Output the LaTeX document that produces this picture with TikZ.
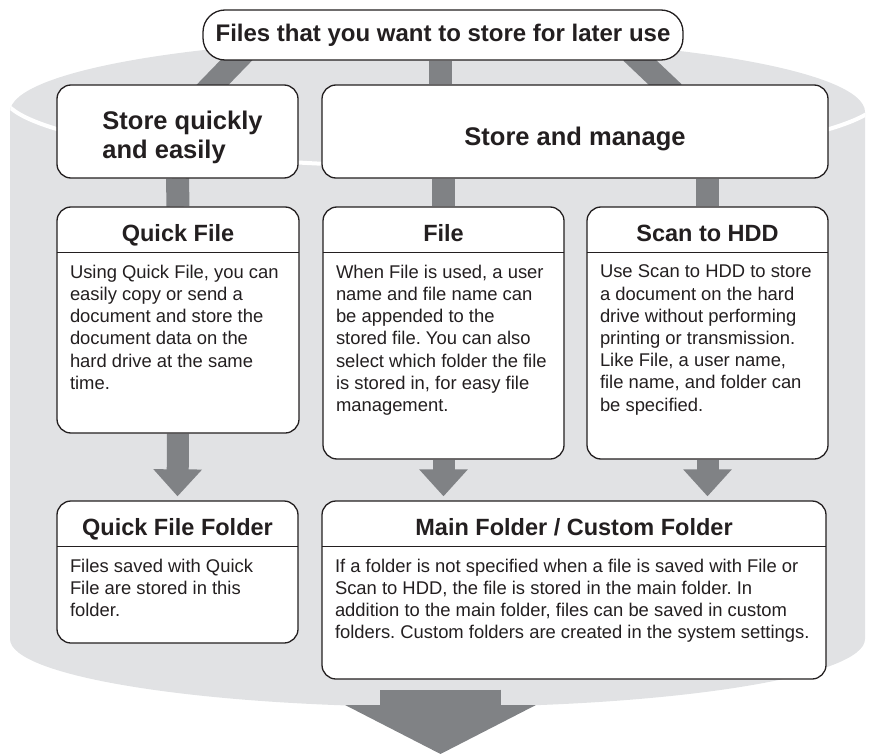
\documentclass[tikz,border=0pt]{standalone}
\usepackage{fontspec}
\setmainfont{Liberation Sans}
\frenchspacing
\usetikzlibrary{arrows.meta,positioning,backgrounds}
\definecolor{drum}{HTML}{E1E2E4}
\definecolor{pipe}{HTML}{808285}
\definecolor{ink}{HTML}{231F20}
\tikzset{
  card/.style={draw=ink, fill=white, rounded corners=14pt, line width=1.3pt, inner sep=0pt, text=ink},
  title/.style={inner sep=0pt, align=left, text=ink, font=\bfseries\fontsize{25.5pt}{29pt}\selectfont},
  head/.style={inner sep=0pt, minimum height=46pt, text height=24pt, text depth=0pt, text=ink, font=\bfseries\fontsize{23.5pt}{28pt}\selectfont},
  body/.style={inner sep=0pt, align=left, text=ink, font=\fontsize{18.4pt}{22.2pt}\selectfont},
  sep/.style={draw=ink, line width=1.3pt},
  bar/.style={pipe, line width=23pt},
  down/.style={pipe, line width=22pt, -{Triangle[width=47pt,length=27pt]}, shorten >=4pt},
}

\begin{document}
\begin{tikzpicture}[x=1pt, y=-1pt]
    \useasboundingbox (0,0) rectangle (872,754);
    % top level
    \node[card, rounded corners=22pt, minimum width=480pt, minimum height=50pt, font=\bfseries\fontsize{24pt}{28pt}\selectfont] (top) at (443,35)
      {Files that you want to store for later use};
    \node[card, minimum width=241pt, minimum height=93pt] (quick) at (177.5,131.5) {};
    \node[title] (quicktext) at ([xshift=5pt, yshift=-6pt]quick.center) {Store quickly\\and easily};
    \node[card, minimum width=506pt, minimum height=93pt, text height=28pt, text depth=0pt,
      font=\bfseries\fontsize{25.5pt}{29pt}\selectfont] (manage) at (575,131.5) {Store and manage};

    % Quick File
    \node[card, minimum width=242pt, minimum height=226pt] (qf) at (178,320) {};
    \node[head, minimum width=242pt, below=0pt of qf.north] (qfhead) {Quick File};
    \draw[sep] (qfhead.south west) -- (qfhead.south east);
    \node[body, below right=12pt and 13pt of qfhead.south west] (qftext)
      {Using Quick File, you can\\ easily copy or send a\\ document and store the\\ document data on the\\ hard drive at the same\\ time.};

    % File
    \node[card, minimum width=241pt, minimum height=252pt] (file) at (443.5,333) {};
    \node[head, minimum width=241pt, below=0pt of file.north] (filehead) {File};
    \draw[sep] (filehead.south west) -- (filehead.south east);
    \node[body, below right=12pt and 13pt of filehead.south west] (filetext)
      {When File is used, a user\\ name and file name can\\ be appended to the\\ stored file. You can also\\ select which folder the file\\ is stored in, for easy file\\ management.};

    % Scan to HDD
    \node[card, minimum width=241pt, minimum height=252pt] (scan) at (707.5,333) {};
    \node[head, minimum width=241pt, below=0pt of scan.north] (scanhead) {Scan to HDD};
    \draw[sep] (scanhead.south west) -- (scanhead.south east);
    \node[body, below right=12pt and 13pt of scanhead.south west] (scantext)
      {Use Scan to HDD to store\\ a document on the hard\\ drive without performing\\ printing or transmission.\\ Like File, a user name,\\ file name, and folder can\\ be specified.};

    % folders
    \node[card, minimum width=241pt, minimum height=142pt] (qff) at (177.5,572) {};
    \node[head, minimum width=241pt, below=0pt of qff.north] (qffhead) {Quick File Folder};
    \draw[sep] (qffhead.south west) -- (qffhead.south east);
    \node[body, below right=12pt and 13pt of qffhead.south west] (qfftext)
      {Files saved with Quick\\ File are stored in this\\ folder.};

    \node[card, minimum width=504pt, minimum height=178pt] (main) at (574,590) {};
    \node[head, minimum width=504pt, below=0pt of main.north] (mainhead) {Main Folder / Custom Folder};
    \draw[sep] (mainhead.south west) -- (mainhead.south east);
    \node[body, below right=12pt and 13pt of mainhead.south west] (maintext)
      {If a folder is not specified when a file is saved with File or\\ Scan to HDD, the file is stored in the main folder. In\\ addition to the main folder, files can be saved in custom\\ folders. Custom folders are created in the system settings.};

    \coordinate (exit) at (440.5,754);

    \begin{scope}[on background layer]
      % drum
      \begin{scope}
        \clip (10,112) arc[start angle=180, end angle=360, x radius=427.5, y radius=74]
          -- (865,639) arc[start angle=0, end angle=180, x radius=427.5, y radius=68] -- cycle;
        \fill[drum] (0,0) rectangle (872,754);
        \draw[white, line width=4pt] (883,94.5) arc[start angle=0, end angle=180, x radius=440, y radius=72];
      \end{scope}
      % bars
      \draw[bar, shorten <=-12pt, shorten >=-12pt] ([xshift=-207pt]top.south) -- ([xshift=35.5pt]quick.north);
      \draw[bar] ([xshift=-2.5pt]top.south) -- ([xshift=-2.5pt]top.south |- manage.north);
      \draw[bar, shorten <=-12pt, shorten >=-12pt] ([xshift=197pt]top.south) -- ([xshift=90pt]manage.north);
      \draw[bar] (quick.south) -- (qf.north);
      \draw[bar] (file.north |- manage.south) -- (file.north);
      \draw[bar] (scan.north |- manage.south) -- (scan.north);
      % arrows
      \draw[down] (qf.south) -- (qff.north);
      \draw[down] (file.south) -- (file.south |- main.north);
      \draw[down] (scan.south) -- (scan.south |- main.north);
      \draw[pipe, line width=121pt, -{Triangle[width=189pt,length=49pt]}, shorten <=10pt] (main.south -| exit) -- (exit);
    \end{scope}
  \end{tikzpicture}
\end{document}
